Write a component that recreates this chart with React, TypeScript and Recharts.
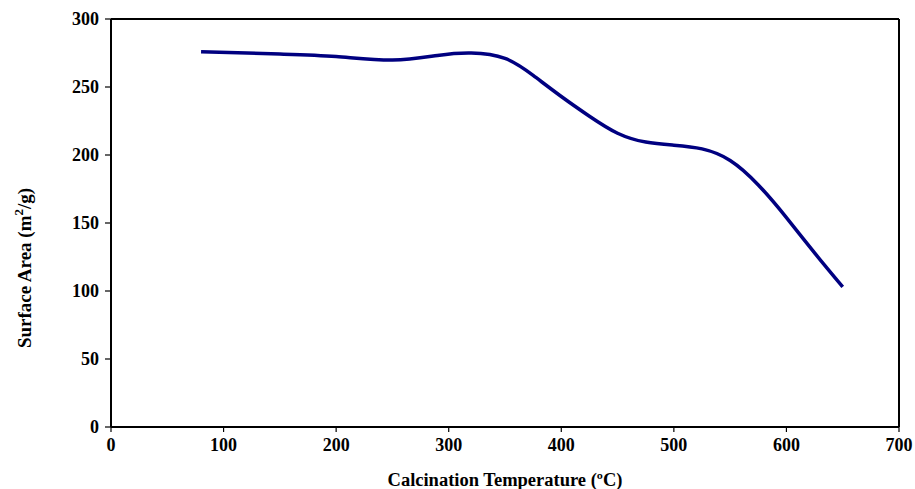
import React from 'react';
import { LineChart, Line, XAxis, YAxis, ReferenceLine, Label } from 'recharts';

const temperatures = [80, 150, 200, 250, 290, 320, 350, 375, 400, 425, 450, 475, 500, 525, 550, 575, 600, 625, 650];
const surfaceAreas = [276, 274.2, 272.4, 269.8, 273.2, 275, 271, 258.5, 243, 228.5, 216, 209.5, 207.2, 204.5, 196, 178, 154, 128, 103];
const xTicks = [0, 100, 200, 300, 400, 500, 600, 700];
const yTicks = [0, 50, 100, 150, 200, 250, 300];

const data = temperatures.map((t, i) => ({ t, a: surfaceAreas[i] }));

const FONT = '"Times New Roman", "Liberation Serif", serif';

const XTick = (props: any) => {
  const { x, y, payload } = props;
  return (
    <text x={x} y={y} dy={17} textAnchor="middle" fontFamily={FONT} fontWeight="bold" fontSize={18} fill="#000">
      {payload.value}
    </text>
  );
};

const YTick = (props: any) => {
  const { x, y, payload } = props;
  return (
    <text x={x - 4} y={y} dy={6} textAnchor="end" fontFamily={FONT} fontWeight="bold" fontSize={18} fill="#000">
      {payload.value}
    </text>
  );
};

export default function App() {
  return (
    <div style={{ position: 'absolute', left: 0, top: 0, background: '#fff' }}>
      <LineChart width={915} height={489} data={data} margin={{ top: 19, right: 16, bottom: 0, left: 0 }}>
        <XAxis
          dataKey="t"
          type="number"
          domain={[0, 700]}
          ticks={xTicks}
          interval={0}
          height={62}
          tickSize={5}
          axisLine={{ stroke: '#000', strokeWidth: 2 }}
          tickLine={{ stroke: '#000', strokeWidth: 1.2 }}
          tick={<XTick />}
        >
          <Label
            content={() => (
              <text x={505} y={486} textAnchor="middle" fontFamily={FONT} fontWeight="bold" fontSize={18.5} fill="#000">
                Calcination Temperature (ºC)
              </text>
            )}
          />
        </XAxis>
        <YAxis
          type="number"
          domain={[0, 300]}
          ticks={yTicks}
          interval={0}
          width={111}
          tickSize={6}
          axisLine={{ stroke: '#000', strokeWidth: 2 }}
          tickLine={{ stroke: '#000', strokeWidth: 1.2 }}
          tick={<YTick />}
        >
          <Label
            content={() => (
              <text transform="translate(31,268) rotate(-90)" textAnchor="middle" fontFamily={FONT} fontWeight="bold" fontSize={19} fill="#000">
                Surface Area (m<tspan dy={-8} fontSize={13}>2</tspan><tspan dy={8}>/g)</tspan>
              </text>
            )}
          />
        </YAxis>
        <ReferenceLine y={300} stroke="#000" strokeWidth={2} />
        <ReferenceLine x={700} stroke="#000" strokeWidth={2} />
        <Line type="natural" dataKey="a" stroke="#000080" strokeWidth={3.5} dot={false} isAnimationActive={false} />
      </LineChart>
    </div>
  );
}
